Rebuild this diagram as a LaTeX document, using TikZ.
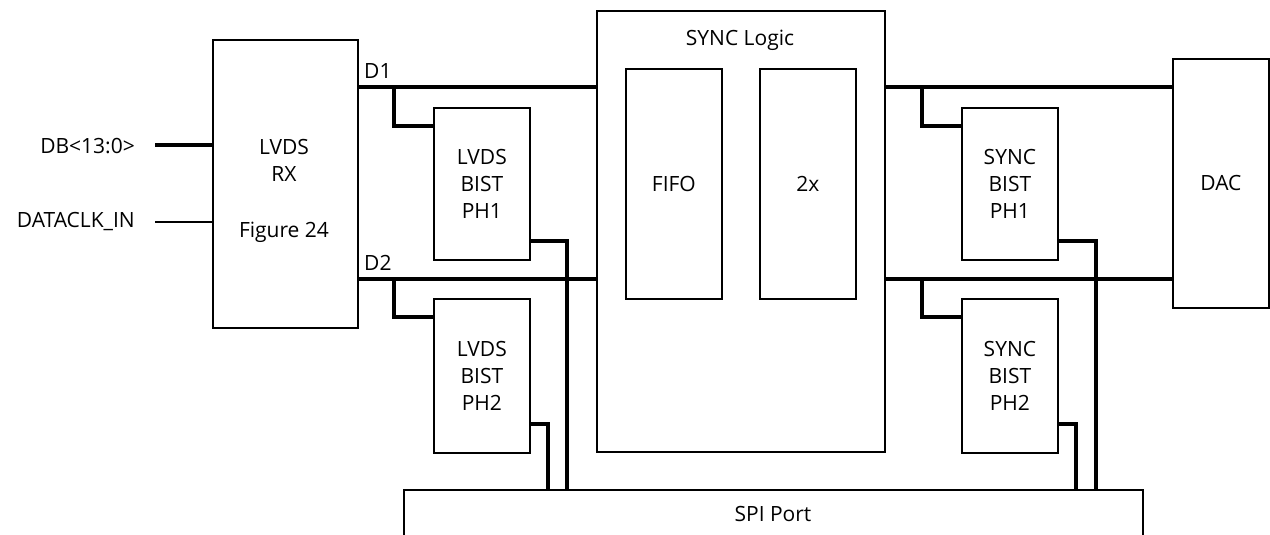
\documentclass[tikz,border=0pt]{standalone}
\usepackage{fontspec}
\setmainfont{Open Sans}
\begin{document}
\begin{tikzpicture}[x=1pt,y=-1pt,
  box/.style={draw, line width=1.8pt, inner sep=0pt, anchor=north west},
  bus/.style={line width=3.5pt},
  wire/.style={line width=1.3pt},
  lbl/.style={inner sep=0pt, font=\fontsize{21}{27}\selectfont, align=center}]
\useasboundingbox (0,0) rectangle (1270,535);
\fill[white] (0,0) rectangle (1270,535);
% blocks
\node[box, minimum width=145pt, minimum height=288pt] (rx) at (212,39) {};
\node[box, minimum width=288pt, minimum height=441pt] (sync) at (596,10) {};
\node[box, minimum width=96pt, minimum height=230pt] (fifo) at (625,68) {};
\node[box, minimum width=96pt, minimum height=230pt] (twox) at (759,68) {};
\node[box, minimum width=96pt, minimum height=152pt] (lb1) at (433,107) {};
\node[box, minimum width=96pt, minimum height=154pt] (lb2) at (433,298) {};
\node[box, minimum width=96pt, minimum height=152pt] (sb1) at (961,107) {};
\node[box, minimum width=96pt, minimum height=154pt] (sb2) at (961,298) {};
\node[box, minimum width=96pt, minimum height=249pt] (dac) at (1172,58) {};
\coordinate (spinw) at (404,490);
\coordinate (spine) at (1143,490);
\draw[line width=1.8pt] (404,540) -- (spinw) -- (spine) -- (1143,540);
% texts
\node[lbl] (trx) at (284,160) {LVDS\\RX};
\node[lbl] (tfig) at (284,232) {Figure 24};
\node[lbl] (tsync) at (740,40) {SYNC Logic};
\node[lbl] (tfifo) at (fifo.center) {FIFO};
\node[lbl] (t2x) at (twox.center) {2x};
\node[lbl] (tlb1) at (lb1.center) {LVDS\\BIST\\PH1};
\node[lbl] (tlb2) at (lb2.center) {LVDS\\BIST\\PH2};
\node[lbl] (tsb1) at (sb1.center) {SYNC\\BIST\\PH1};
\node[lbl] (tsb2) at (sb2.center) {SYNC\\BIST\\PH2};
\node[lbl] (tdac) at (dac.center) {DAC};
\node[lbl] (tspi) at (773,514) {SPI Port};
\node[lbl, anchor=east] (tdb) at (135,146) {DB<13:0>};
\node[lbl, anchor=east] (tclk) at (135,222) {DATACLK\_IN};
\node[lbl, anchor=west] (td1) at (364,71) {D1};
\node[lbl, anchor=west] (td2) at (364,263) {D2};
% inputs
\coordinate (dbin) at (155,145);
\coordinate (clkin) at (155,222);
\draw[bus] (dbin) -- (rx.west |- dbin);
\draw[wire] (clkin) -- (rx.west |- clkin);
% left buses
\draw[bus] (rx.east |- 0,87) -- (sync.west |- 0,87);
\draw[bus] (rx.east |- 0,279) -- (sync.west |- 0,279);
\coordinate (j1) at (394,87);
\coordinate (j2) at (394,279);
\draw[bus] (j1) |- (lb1.west |- 0,126);
\draw[bus] (j2) |- (lb2.west |- 0,317);
\draw[bus] (lb1.east |- 0,241) -| (spinw -| 567,0);
\draw[bus] (lb2.east |- 0,424) -| (spinw -| 548,0);
% right buses
\draw[bus] (sync.east |- 0,87) -- (dac.west |- 0,87);
\draw[bus] (sync.east |- 0,279) -- (dac.west |- 0,279);
\coordinate (j3) at (922,87);
\coordinate (j4) at (922,279);
\draw[bus] (j3) |- (sb1.west |- 0,126);
\draw[bus] (j4) |- (sb2.west |- 0,317);
\draw[bus] (sb1.east |- 0,241) -| (spinw -| 1096,0);
\draw[bus] (sb2.east |- 0,424) -| (spinw -| 1076,0);
\end{tikzpicture}
\end{document}
